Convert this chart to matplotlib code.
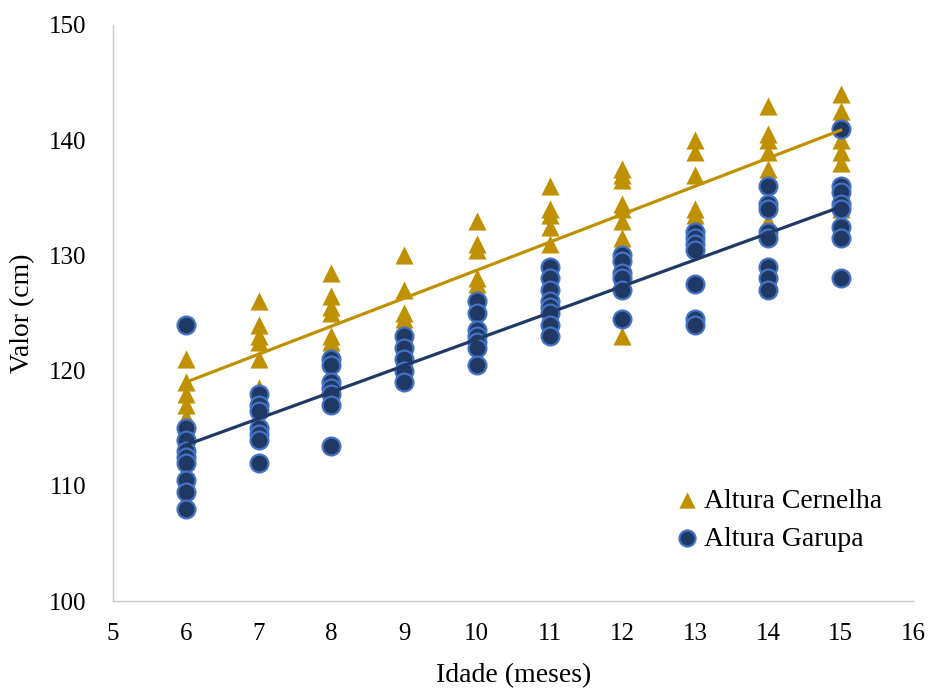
import numpy as np
import matplotlib.pyplot as plt

plt.rcParams['font.family'] = ['Liberation Serif', 'DejaVu Serif']

# Altura Cernelha (triangulos)
idade_cern = [6]*8 + [7]*7 + [8]*6 + [9]*4 + [10]*5 + [11]*5 + [12]*8 + [13]*6 + [14]*7 + [15]*8
altura_cern = [121, 119, 118, 117, 116, 115.5, 114.5, 113.5,
               126, 124, 123, 122.5, 121, 118.5, 117.5,
               128.5, 126.5, 125.5, 125, 123, 122.5,
               130, 127, 125, 124.5,
               133, 131, 130.5, 128, 127.5,
               136, 134, 133.5, 132.5, 131,
               137.5, 137, 136.5, 134.5, 134, 133, 131.5, 123,
               140, 139, 137, 134, 133.5, 132.5,
               143, 140.5, 140, 139, 137.5, 137, 133,
               144, 142.5, 142, 140, 139, 138, 136, 134]

# Altura Garupa (circulos)
idade_gar = [6]*9 + [7]*7 + [8]*7 + [9]*5 + [10]*7 + [11]*8 + [12]*6 + [13]*7 + [14]*8 + [15]*8
altura_gar = [124, 115, 114, 113, 112.5, 112, 110.5, 109.5, 108,
              118, 117, 116.5, 115, 114.5, 114, 112,
              121, 120.5, 119, 118.5, 118, 117, 113.5,
              123, 122, 121, 120, 119,
              126, 125, 123.5, 123, 122.5, 122, 120.5,
              129, 128, 127, 126, 125.5, 125, 124, 123,
              130, 129.5, 128.5, 128, 127, 124.5,
              132, 131.5, 131, 130.5, 127.5, 124.5, 124,
              136, 134.5, 134, 132, 131.5, 129, 128, 127,
              141, 136, 135.5, 134.5, 134, 132.5, 131.5, 128]

gold = '#bf9000'
navy = '#1f3864'
edge = '#4472c4'

fig = plt.figure(figsize=(9.34, 6.91), dpi=100)
ax = fig.add_axes([0.121, 0.130, 0.857, 0.834])

ax.scatter(idade_cern, altura_cern, marker='^', s=170, color=gold, linewidths=0,
           label='Altura Cernelha', zorder=2)
ax.scatter(idade_gar, altura_gar, marker='o', s=165, facecolor=navy, edgecolor=edge,
           linewidths=1.6, label='Altura Garupa', zorder=3)

# linhas de tendencia (regressao linear)
xs = np.array([6, 15])
a, b = np.polyfit(idade_cern, altura_cern, 1)
ax.plot(xs, a*xs + b, color=gold, lw=2.3, zorder=4)
a, b = np.polyfit(idade_gar, altura_gar, 1)
ax.plot(xs, a*xs + b, color=navy, lw=2.3, zorder=4)

ax.set_xlim(5, 16)
ax.set_ylim(100, 150)
ax.set_xticks(range(5, 17))
ax.set_yticks(range(100, 151, 10))
ax.tick_params(length=0, labelsize=18)
ax.tick_params(axis='y', pad=19)
ax.tick_params(axis='x', pad=16)
for s in ['top', 'right']:
    ax.spines[s].set_visible(False)
for s in ['left', 'bottom']:
    ax.spines[s].set_color('#c8c8c8')
    ax.spines[s].set_linewidth(1)

ax.set_xlabel('Idade (meses)', fontsize=20)
ax.set_ylabel('Valor (cm)', fontsize=20)
ax.yaxis.set_label_coords(-0.0975, 0.5)
ax.xaxis.set_label_coords(0.5, -0.107)

leg = ax.legend(loc='center left', bbox_to_anchor=(0.694, 0.2475),
                bbox_transform=fig.transFigure, fontsize=20,
                frameon=True, fancybox=False, handlelength=1.0, handletextpad=0.1,
                borderpad=0.4, labelspacing=0.45, markerscale=0.9)
leg.get_frame().set_facecolor('white')
leg.get_frame().set_edgecolor('white')

fig.savefig('out.png', dpi=100)
